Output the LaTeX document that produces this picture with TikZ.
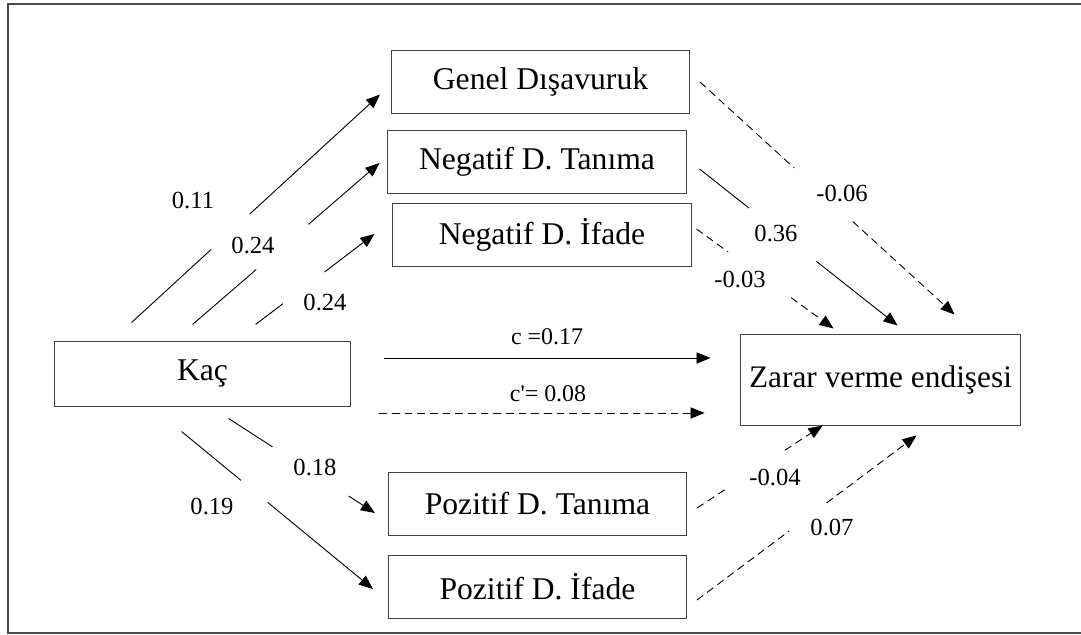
\documentclass[tikz,border=0pt]{standalone}
\usepackage{fontspec}
\setmainfont{Liberation Serif}
\newfontfamily\plainserif{Liberation Serif}
\usepackage{tikz}
\usetikzlibrary{arrows.meta,calc}

\begin{document}
\begin{tikzpicture}[x=0.025cm, y=-0.025cm,
    box/.style={draw=black!75, line width=0.7pt, minimum width=7.45cm, minimum height=1.55cm, inner sep=0pt, font=\fontsize{22.5}{26}\selectfont},
    lbl/.style={font=\fontsize{17.5}{21}\selectfont, inner sep=1pt},
    path/.style={line width=0.65pt, -{Triangle[length=10pt,width=8pt]}},
    dashpath/.style={path, dash pattern=on 5.5pt off 3.5pt}]

  \useasboundingbox (0,0) rectangle (1081,635);
  \draw[black!70, line width=1.1pt] (1090,4) -- (8,4) -- (8,633) -- (1090,633);

  % boxes
  \node[box] (gen) at (540.5,82) {Genel Dışavuruk};
  \node[box] (ntan) at (537,162) {Negatif D. Tanıma};
  \node[box] (nif) at (542,235) {Negatif D. İfade};
  \node[box, minimum width=7.42cm, minimum height=1.6cm] (kac) at (202.5,374) {Kaç};
  \node[box, minimum width=7.02cm, minimum height=2.25cm, font=\fontsize{22.3}{26}\selectfont] (zar) at (880.5,380) {Zarar verme endişesi};
  \node[box] (ptan) at (537.5,504) {Pozitif D. Tanıma};
  \node[box] (pif) at (537.5,587) {Pozitif D. İfade};

  % Kaç -> negatif / genel
  \coordinate (a1s) at ([shift={(78,-19)}]kac.north west);
  \coordinate (a1e) at ([shift={(-11,-19)}]gen.south west);
  \draw[line width=0.65pt] (a1s) -- ($(a1s)!0.32!(a1e)$);
  \draw[path] ($(a1s)!0.476!(a1e)$) -- (a1e);
  \node[lbl] (l11) at (193,200) {0.11};

  \coordinate (a2s) at ([shift={(139,-17)}]kac.north west);
  \coordinate (a2e) at ([shift={(-8,1)}]ntan.west);
  \draw[line width=0.65pt] (a2s) -- ($(a2s)!0.34!(a2e)$);
  \draw[path] ($(a2s)!0.62!(a2e)$) -- (a2e);
  \node[lbl] (l24a) at (253,245) {0.24};

  \coordinate (a3s) at ([shift={(202,-17)}]kac.north west);
  \coordinate (a3e) at ([shift={(-18,-1)}]nif.west);
  \draw[line width=0.65pt] (a3s) -- ($(a3s)!0.23!(a3e)$);
  \draw[path] ($(a3s)!0.58!(a3e)$) -- (a3e);
  \node[lbl] (l24b) at (325,302) {0.24};

  % genel / negatif -> Zarar
  \coordinate (b1s) at ([shift={(10,0)}]gen.east);
  \coordinate (b1e) at ([shift={(215,-20)}]zar.north west);
  \draw[line width=0.65pt, dash pattern=on 5.5pt off 3.5pt] (b1s) -- ($(b1s)!0.37!(b1e)$);
  \draw[dashpath] ($(b1s)!0.6!(b1e)$) -- (b1e);
  \node[lbl] (l06) at (842,193) {-0.06};

  \coordinate (b2s) at ([shift={(13,7)}]ntan.east);
  \coordinate (b2e) at ([shift={(158,-9)}]zar.north west);
  \draw[line width=0.65pt] (b2s) -- ($(b2s)!0.25!(b2e)$);
  \draw[path] ($(b2s)!0.59!(b2e)$) -- (b2e);
  \node[lbl] (l36) at (776,233) {0.36};

  \coordinate (b3s) at ([shift={(5,-6)}]nif.east);
  \coordinate (b3e) at ([shift={(94,-6)}]zar.north west);
  \draw[line width=0.65pt, dash pattern=on 5.5pt off 3.5pt] (b3s) -- ($(b3s)!0.23!(b3e)$);
  \draw[dashpath] ($(b3s)!0.69!(b3e)$) -- (b3e);
  \node[lbl] (l03) at (740,279) {-0.03};

  % direct paths
  \draw[path] ([shift={(33,-16)}]kac.east) -- ([shift={(-29,-22)}]zar.west);
  \node[lbl, font=\fontsize{17}{20}\selectfont] (lc) at (547,337) {c =0.17};
  \draw[dashpath] ([shift={(28,39)}]kac.east) -- ([shift={(-35,33)}]zar.west);
  \node[lbl, font=\plainserif\fontsize{17}{20}\selectfont] (lcp) at (548,394) {c'= 0.08};

  % Kaç -> pozitif
  \coordinate (d1s) at ([shift={(175,12)}]kac.south west);
  \coordinate (d1e) at ([shift={(-13,9)}]ptan.west);
  \draw[line width=0.65pt] (d1s) -- ($(d1s)!0.30!(d1e)$);
  \draw[path] ($(d1s)!0.82!(d1e)$) -- (d1e);
  \node[lbl] (l18) at (315,467) {0.18};

  \coordinate (d2s) at ([shift={(128,25)}]kac.south west);
  \coordinate (d2e) at ([shift={(-15,2)}]pif.west);
  \draw[line width=0.65pt] (d2s) -- ($(d2s)!0.31!(d2e)$);
  \draw[path] ($(d2s)!0.45!(d2e)$) -- (d2e);
  \node[lbl] (l19) at (212,506) {0.19};

  % pozitif -> Zarar
  \coordinate (e1s) at ([shift={(10,4)}]ptan.east);
  \coordinate (e1e) at ([shift={(83,0)}]zar.south west);
  \draw[line width=0.65pt, dash pattern=on 5.5pt off 3.5pt] (e1s) -- ($(e1s)!0.25!(e1e)$);
  \draw[dashpath] ($(e1s)!0.70!(e1e)$) -- (e1e);
  \node[lbl] (l04) at (775,477) {-0.04};

  \coordinate (e2s) at ([shift={(10,13)}]pif.east);
  \coordinate (e2e) at ([shift={(177,10)}]zar.south west);
  \draw[line width=0.65pt, dash pattern=on 5.5pt off 3.5pt] (e2s) -- ($(e2s)!0.42!(e2e)$);
  \draw[dashpath] ($(e2s)!0.59!(e2e)$) -- (e2e);
  \node[lbl] (l07) at (832,527) {0.07};

\end{tikzpicture}
\end{document}
